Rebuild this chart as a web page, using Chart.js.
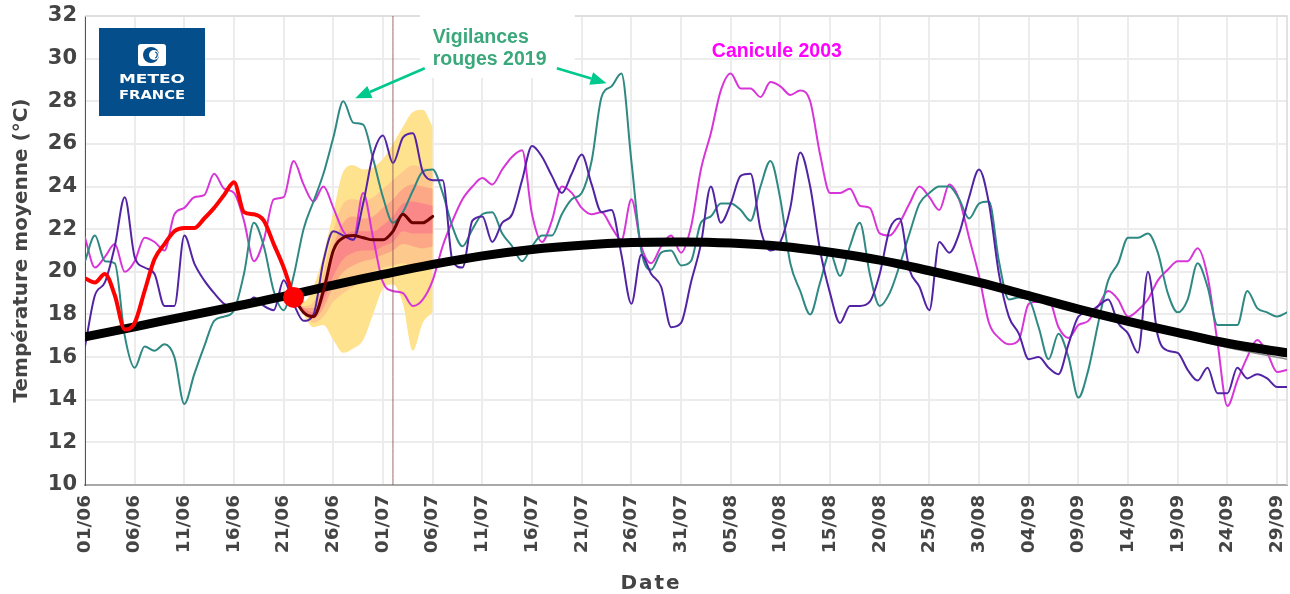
<!DOCTYPE html>
<html lang="fr">
<head>
<meta charset="utf-8">
<title>Température moyenne été</title>
<script src="https://cdn.jsdelivr.net/npm/chart.js@4.4.1/dist/chart.umd.min.js"></script>
<style>
  html, body { margin: 0; padding: 0; background: #fff; overflow: hidden; }
  canvas { display: block; }
</style>
</head>
<body>
<canvas id="tempChart" width="1290" height="594"></canvas>
<script>
// day index 0 = 01/06, 121 = 30/09
const tickLabels = ['01/06','06/06','11/06','16/06','21/06','26/06','01/07','06/07','11/07','16/07',
  '21/07','26/07','31/07','05/08','10/08','15/08','20/08','25/08','30/08','04/09','09/09','14/09',
  '19/09','24/09','29/09'];

const canicule2003 = [
  21.6, 20.2, 20.7, 21.3, 20.0, 20.5, 21.6, 21.4, 21.0, 22.7,
  23.0, 23.5, 23.6, 24.6, 23.9, 23.7, 22.4, 20.5, 21.5, 23.4,
  23.5, 25.2, 24.1, 23.3, 24.0, 23.0, 21.9, 21.5, 23.7, 21.6,
  19.5, 19.1, 19.0, 18.4, 18.7, 19.6, 21.2, 22.4, 23.4, 24.0,
  24.4, 24.1, 24.8, 25.4, 25.7, 22.7, 21.4, 22.4, 24.0, 23.7,
  23.0, 22.7, 22.8, 22.1, 21.5, 23.4, 21.2, 20.4, 21.2, 21.7,
  20.9, 22.1, 24.8, 26.5, 28.5, 29.3, 28.6, 28.6, 28.2, 28.9,
  28.7, 28.3, 28.5, 28.0, 25.5, 23.7, 23.7, 23.9, 23.1, 23.0,
  21.8, 21.7, 22.3, 23.2, 24.0, 23.5, 22.9, 24.1, 23.4, 21.6,
  19.8, 17.6, 16.9, 16.6, 16.8, 18.5, 18.6, 18.7, 17.4, 16.9,
  17.5, 17.7, 18.4, 19.1, 18.7, 17.9, 18.2, 18.7, 19.6, 20.1,
  20.5, 20.5, 21.1, 19.8, 16.7, 13.7, 14.9, 16.0, 16.8, 16.2,
  15.3, 15.4
];

const vigilances2019 = [
  20.5, 21.7, 20.5, 20.4, 17.0, 15.5, 16.5, 16.3, 16.6, 16.0,
  13.8, 15.2, 16.5, 17.7, 17.9, 18.2, 19.9, 22.3, 21.2, 19.1,
  18.2, 19.8, 22.0, 23.3, 24.6, 26.3, 28.0, 27.0, 26.9, 25.3,
  23.5, 22.3, 22.8, 23.8, 24.7, 24.8, 23.7, 22.1, 21.2, 22.0,
  22.7, 22.8, 21.8, 21.2, 20.5, 21.2, 21.7, 21.7, 22.7, 23.4,
  23.7, 25.2, 28.2, 28.7, 29.3, 25.2, 21.0, 20.1, 20.9, 21.0,
  20.3, 20.5, 22.3, 22.6, 23.2, 23.2, 22.9, 22.4, 24.0, 25.2,
  23.4, 20.4, 19.1, 18.0, 19.5, 20.9, 19.8, 21.2, 22.3, 19.9,
  18.4, 19.0, 20.3, 21.8, 23.2, 23.7, 24.0, 24.0, 23.4, 22.5,
  23.2, 23.3, 20.5, 18.7, 18.8, 18.7, 17.4, 15.9, 17.1, 16.0,
  14.1, 15.4, 17.6, 19.6, 20.4, 21.6, 21.6, 21.8, 20.9, 19.0,
  18.1, 18.7, 20.4, 19.3, 17.5, 17.5, 17.5, 19.1, 18.3, 18.1,
  17.9, 18.1
];

const otherYear = [
  16.5, 18.9, 19.5, 21.2, 23.5, 20.7, 20.2, 19.9, 18.4, 18.4,
  21.7, 20.4, 19.6, 19.0, 18.5, 18.3, 18.3, 18.8, 18.4, 18.2,
  19.6, 18.5, 17.7, 18.0, 20.5, 21.9, 21.7, 21.5, 23.2, 25.5,
  26.4, 25.1, 26.3, 26.5, 24.7, 24.3, 24.3, 20.5, 20.2, 22.4,
  22.6, 21.4, 22.3, 22.7, 24.3, 25.9, 25.4, 24.5, 23.7, 24.6,
  25.5, 24.1, 22.8, 22.9, 20.8, 18.5, 20.8, 19.9, 19.3, 17.4,
  17.6, 19.5, 21.3, 24.0, 22.3, 23.2, 24.5, 24.6, 22.0, 21.0,
  21.4, 23.0, 25.6, 24.0, 21.0, 19.0, 17.6, 18.4, 18.4, 18.6,
  19.9, 22.0, 22.5, 20.1, 19.3, 18.2, 21.4, 20.9, 21.8, 23.5,
  24.8, 23.2, 19.9, 17.9, 17.1, 15.9, 16.0, 15.5, 15.2, 16.6,
  17.9, 18.1, 18.4, 18.7, 17.6, 17.1, 16.2, 20.0, 17.0, 16.3,
  16.2, 15.4, 14.9, 15.5, 14.3, 14.3, 15.5, 15.0, 15.2, 15.0,
  14.6, 14.6
];

// observed this year, days 0..21
const observed = [19.7, 19.5, 19.9, 18.9, 17.3, 17.6, 19.1, 20.6, 21.3, 21.9, 22.05,
  22.05, 22.5, 23.0, 23.6, 24.2, 22.8, 22.7, 22.4, 21.3, 20.2, 18.8];

// forecast, days 21..35
const forecastStart = 21;
const forecastMedian = [18.8, 18.1, 17.9, 19.1, 21.0, 21.6, 21.7, 21.6, 21.5, 21.5, 21.9, 22.7, 22.3, 22.3, 22.6];
const bandMax  = [18.8, 18.6, 19.3, 20.8, 22.8, 24.7, 25.0, 24.8, 24.9, 25.3, 26.0, 26.8, 27.5, 27.6, 26.8];
const bandMin  = [18.8, 18.0, 17.4, 17.5, 16.8, 16.2, 16.4, 16.8, 18.0, 19.2, 19.4, 18.5, 16.3, 17.6, 18.1];
const band2Hi  = [18.8, 18.4, 18.6, 19.9, 21.9, 23.2, 23.4, 23.3, 23.5, 23.9, 24.3, 24.7, 25.0, 24.9, 24.7];
const band2Lo  = [18.8, 18.1, 17.6, 17.9, 18.6, 19.0, 19.3, 19.6, 20.0, 20.2, 20.3, 20.4, 20.2, 20.1, 20.2];
const band3Hi  = [18.8, 18.3, 18.3, 19.5, 21.2, 22.3, 22.6, 22.5, 22.6, 23.0, 23.4, 23.9, 24.1, 24.0, 23.9];
const band3Lo  = [18.8, 18.2, 17.8, 18.3, 19.3, 20.0, 20.3, 20.5, 20.6, 20.8, 21.0, 21.3, 21.2, 21.1, 21.2];
const band4Hi  = [18.8, 18.3, 18.1, 19.2, 20.7, 21.6, 21.9, 21.9, 21.9, 22.2, 22.6, 23.2, 23.3, 23.2, 23.1];
const band4Lo  = [18.8, 18.2, 17.9, 18.6, 19.8, 20.6, 20.9, 21.0, 21.0, 21.2, 21.4, 21.9, 21.8, 21.8, 21.8];

// climatological normals
const normalDays  = [0, 5, 10, 15, 20, 25, 30, 35, 40, 45, 50, 55, 60, 65, 70, 75, 80, 85, 90, 95, 100, 105, 110, 115, 121];
const normalBlack = [16.95, 17.42, 17.9, 18.37, 18.85, 19.38, 19.88, 20.35, 20.75, 21.05, 21.25, 21.37, 21.4,
  21.35, 21.2, 20.92, 20.55, 20.05, 19.5, 18.88, 18.25, 17.68, 17.15, 16.65, 16.2];
const normalGrey  = [16.9, 17.37, 17.84, 18.3, 18.77, 19.28, 19.77, 20.22, 20.6, 20.9, 21.1, 21.22, 21.26,
  21.22, 21.07, 20.8, 20.43, 19.94, 19.4, 18.78, 18.15, 17.56, 17.0, 16.45, 15.9];

const markerDay = 21, markerValue = 18.8;
const todayDay = 31;

const pts = (values, start) => values.map((v, i) => ({ x: start + i, y: v }));
const normalPts = vals => normalDays.map((d, i) => ({ x: d, y: vals[i] }));

function band(hi, lo, color, order) {
  return [
    { data: pts(hi, forecastStart), borderWidth: 0, backgroundColor: color, fill: '+1', order },
    { data: pts(lo, forecastStart), borderWidth: 0, backgroundColor: color, fill: false, order }
  ];
}

function arrow(ctx, x1, y1, x2, y2) {
  const ang = Math.atan2(y2 - y1, x2 - x1), head = 16, half = 6.5;
  const bx = x2 - head * Math.cos(ang), by = y2 - head * Math.sin(ang);
  ctx.beginPath(); ctx.moveTo(x1, y1); ctx.lineTo(bx, by); ctx.stroke();
  ctx.beginPath();
  ctx.moveTo(x2, y2);
  ctx.lineTo(bx + half * Math.sin(ang), by - half * Math.cos(ang));
  ctx.lineTo(bx - half * Math.sin(ang), by + half * Math.cos(ang));
  ctx.closePath(); ctx.fill();
}

function stretchedText(ctx, txt, cx, y, width) {
  const w = ctx.measureText(txt).width;
  ctx.save();
  ctx.translate(cx, y);
  ctx.scale(width / w, 1);
  ctx.textAlign = 'center';
  ctx.fillText(txt, 0, 0);
  ctx.restore();
}

const decor = {
  id: 'decor',
  beforeDatasetsDraw(chart) {
    const { ctx, chartArea: a, scales: { x, y } } = chart;
    ctx.save();
    // light frame top / right
    ctx.strokeStyle = '#d9d9d9';
    ctx.lineWidth = 1.5;
    ctx.beginPath();
    ctx.moveTo(a.left, a.top); ctx.lineTo(a.right, a.top); ctx.lineTo(a.right, a.bottom);
    ctx.stroke();

    // white box behind the 2019 note
    const bx1 = x.getPixelForValue(33.7), bx2 = x.getPixelForValue(49.3);
    const by1 = y.getPixelForValue(32) - 3, by2 = y.getPixelForValue(29.1);
    ctx.fillStyle = '#fff';
    ctx.fillRect(bx1, by1, bx2 - bx1, by2 - by1);

    // logo
    const lx = a.left + 14, ly = a.top + 12, lw = 106, lh = 88, cx = lx + lw / 2;
    ctx.fillStyle = '#034e8b';
    ctx.fillRect(lx, ly, lw, lh);
    ctx.fillStyle = '#fff';
    ctx.beginPath();
    ctx.roundRect(cx - 14, ly + 16, 28, 22, 3);
    ctx.fill();
    ctx.fillStyle = '#034e8b';
    ctx.beginPath(); ctx.arc(cx - 1, ly + 27, 8, 0, Math.PI * 2); ctx.fill();
    ctx.fillStyle = '#fff';
    ctx.beginPath(); ctx.arc(cx + 2, ly + 27, 5, 0, Math.PI * 2); ctx.fill();
    ctx.strokeStyle = '#034e8b'; ctx.lineWidth = 1.2;
    ctx.beginPath(); ctx.arc(cx + 2, ly + 27, 3.2, -1.2, 1.2); ctx.stroke();
    ctx.fillStyle = '#fff';
    ctx.font = 'bold 13px "DejaVu Sans"';
    stretchedText(ctx, 'METEO', cx, ly + 55, 66);
    stretchedText(ctx, 'FRANCE', cx, ly + 71, 66);
    ctx.restore();
  },
  afterDatasetsDraw(chart) {
    const { ctx, scales: { x, y } } = chart;
    const px = d => x.getPixelForValue(d), py = v => y.getPixelForValue(v);
    ctx.save();
    ctx.font = 'bold 19.5px "Liberation Sans"';
    ctx.textAlign = 'left';
    ctx.textBaseline = 'alphabetic';
    ctx.fillStyle = '#3aa87b';
    ctx.fillText('Vigilances', px(35.0), py(30.72));
    ctx.fillText('rouges 2019', px(35.0), py(29.69));
    ctx.fillStyle = '#ff00ff';
    ctx.fillText('Canicule 2003', px(63.1), py(30.1));

    ctx.strokeStyle = '#00c98d';
    ctx.fillStyle = '#00c98d';
    ctx.lineWidth = 2.6;
    arrow(ctx, px(34.2), py(29.55), px(27.2), py(28.14));
    arrow(ctx, px(47.5), py(29.55), px(52.5), py(28.85));
    ctx.restore();
  },
  afterDraw(chart) {
    const { ctx, chartArea: a } = chart;
    ctx.save();
    ctx.fillStyle = '#444';
    ctx.font = 'bold 20px "DejaVu Sans"';
    ctx.textAlign = 'center';
    ctx.textBaseline = 'middle';
    ctx.translate(22, (a.top + a.bottom) / 2);
    ctx.rotate(-Math.PI / 2);
    ctx.fillText('Température moyenne (°C)', 0, 0);
    ctx.restore();
    ctx.save();
    ctx.fillStyle = '#444';
    ctx.font = 'bold 20px "DejaVu Sans"';
    ctx.letterSpacing = '2px';
    ctx.textAlign = 'center';
    ctx.textBaseline = 'middle';
    ctx.fillText('Date', 651, 584);
    ctx.restore();
  }
};

const tickFont = { family: 'DejaVu Sans', weight: 'bold' };

new Chart(document.getElementById('tempChart'), {
  type: 'line',
  data: {
    datasets: [
      { data: [{ x: markerDay, y: markerValue }], showLine: false, pointRadius: 10.5,
        pointBackgroundColor: '#ff0000', pointBorderWidth: 0, order: 0 },
      { data: pts(observed, 0), borderColor: '#ff0000', borderWidth: 4, order: 1 },
      { data: pts(forecastMedian, forecastStart), borderColor: '#6a0000', borderWidth: 3, order: 2 },
      { data: normalPts(normalBlack), borderColor: '#000', borderWidth: 9, tension: 0.4,
        cubicInterpolationMode: 'default', order: 3 },
      { data: normalPts(normalGrey), borderColor: '#8c8c8c', borderWidth: 1.5, tension: 0.4,
        cubicInterpolationMode: 'default', order: 4 },
      { data: [{ x: todayDay, y: 10 }, { x: todayDay, y: 32 }], borderColor: 'rgba(140,80,80,0.85)',
        borderWidth: 1, order: 5 },
      { data: pts(otherYear, 0), borderColor: '#5224a3', borderWidth: 2, order: 6 },
      { data: pts(vigilances2019, 0), borderColor: '#2f8983', borderWidth: 2, order: 7 },
      { data: pts(canicule2003, 0), borderColor: '#d835d8', borderWidth: 2, order: 8 },
      ...band(band4Hi, band4Lo, 'rgb(250,136,136)', 9),
      ...band(band3Hi, band3Lo, 'rgb(252,168,134)', 10),
      ...band(band2Hi, band2Lo, 'rgb(253,201,140)', 11),
      ...band(bandMax, bandMin, 'rgb(255,226,142)', 12)
    ]
  },
  options: {
    responsive: false,
    devicePixelRatio: 1,
    animation: false,
    events: [],
    layout: { autoPadding: false, padding: { top: 16, right: 3, left: 0, bottom: 0 } },
    plugins: { legend: { display: false }, tooltip: { enabled: false } },
    elements: {
      point: { radius: 0 },
      line: { cubicInterpolationMode: 'monotone', borderJoinStyle: 'round', borderCapStyle: 'round' }
    },
    scales: {
      x: {
        type: 'linear',
        min: 0,
        max: 121,
        afterFit(s) { s.height = 109; s.paddingLeft = 0; s.paddingRight = 0; },
        grid: { color: '#ececec', lineWidth: 2, drawTicks: false },
        border: { color: '#a9a9a9', width: 2 },
        ticks: {
          stepSize: 5,
          autoSkip: false,
          includeBounds: false,
          minRotation: 90,
          maxRotation: 90,
          padding: 10,
          color: '#444',
          font: { ...tickFont, size: 18.5 },
          callback: v => (Math.round(v) % 5 === 0 ? tickLabels[Math.round(v) / 5] : null)
        }
      },
      y: {
        min: 10,
        max: 32,
        afterFit(s) { s.width = 85; s.paddingTop = 0; s.paddingBottom = 0; },
        grid: { color: '#ececec', lineWidth: 2, drawTicks: false },
        border: { color: '#555', width: 1 },
        ticks: { stepSize: 2, padding: 8, color: '#444', font: { ...tickFont, size: 21 } }
      }
    }
  },
  plugins: [decor]
});
</script>
</body>
</html>
